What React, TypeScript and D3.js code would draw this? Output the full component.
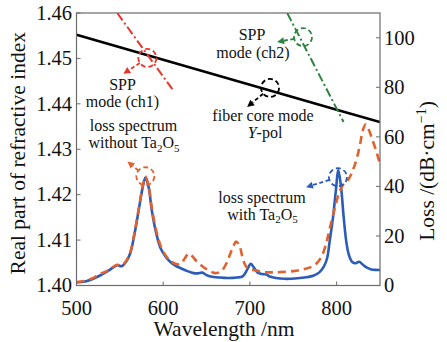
import React from "react";
import * as d3 from "d3";

// ---------- data ----------
const wlWith = [500,510,520,528,535,542,547,552,557,562,567,572,576,579.5,583,587,592,597,603,608,614,620,628,635,640,645,650,655,665,675,685,692,697,701,705,709,714,719,723,730,740,755,765,773,780,785,789,792,796,799,802,805,808,811,814,818,822,826,830,835,840,845,850];
const lossWith = [1.2,1.6,2.8,4.2,5.6,7.2,8.2,7.8,9.5,13,21,31,39,43.6,40,30,21,15,11.5,9.6,8.0,7.0,5.8,5.0,4.9,5.2,4.2,3.6,3.2,3.0,3.2,3.8,6.5,8.8,7.0,5.2,4.6,4.4,3.6,3.0,2.7,2.9,3.3,3.9,5.3,7.5,11,18,28,38,46.5,40,28,18,12.5,9.5,9.0,9.6,8.5,7.2,6.5,6.3,6.3];

const wlWithout = [500,510,520,528,535,542,547,552,557,562,567,572,576,579.5,583,587,592,597,603,608,614,620,625,629,633,638,645,652,660,667,673,677,681,684,688,691,695,700,708,716,725,735,750,760,770,777,783,788,792,797,803,808,813,818,823,827,830.5,833.5,837,841,845,850];
const lossWithout = [1.4,1.9,3.2,4.8,5.8,7.5,8.4,8.0,9.8,13.5,21.5,31.5,39.5,44,40.5,31,22,16,12,10,8.8,8.6,11,12.8,12,10,7.8,6.2,5.0,5.8,9,12.5,16,17.7,16,12,8,6.6,6.0,5.4,5.3,5.4,5.8,6.4,7.4,9,12,17,23,30,37.5,41,42.5,46,51,57,63,65,63,59,55,49];

const wlCore = [500, 600, 700, 800, 850];
const nCore = [1.4552, 1.4497, 1.4442, 1.4387, 1.436];

const wlCh1 = [547, 611];
const nCh1 = [1.46, 1.4431];

const wlCh2 = [743, 808];
const nCh2 = [1.46, 1.436];

const xTicks = [500, 600, 700, 800];
const yLeftTicks = [1.40, 1.41, 1.42, 1.43, 1.44, 1.45, 1.46];
const yRightTicks = [0, 20, 40, 60, 80, 100];

// ---------- layout ----------
const W = 447, H = 342;
const L = 76.5, R = 380, T = 13, B = 285.5;
const FONT = "Liberation Serif";
const TS: React.CSSProperties = { fontFamily: FONT };

const x = d3.scaleLinear().domain([500, 850]).range([L, R]);
const yL = d3.scaleLinear().domain([1.40, 1.46]).range([B, T]);
const yR = d3.scaleLinear().domain([0, 110]).range([B, T]);

const C_BLUE = "#2a5cb8";
const C_ORANGE = "#e0622f";
const C_RED = "#e8362d";
const C_GREEN = "#2e8540";

function Arrow({ from, to, color }: { from: [number, number]; to: [number, number]; color: string }) {
  const [x1, y1] = from;
  const [x2, y2] = to;
  const ang = Math.atan2(y2 - y1, x2 - x1);
  const hl = 7, hw = 3.5;
  const bx = x2 - hl * Math.cos(ang), by = y2 - hl * Math.sin(ang);
  const p1 = [bx + hw * Math.sin(ang), by - hw * Math.cos(ang)];
  const p2 = [bx - hw * Math.sin(ang), by + hw * Math.cos(ang)];
  return (
    <g>
      <line x1={x1} y1={y1} x2={bx} y2={by} stroke={color} strokeWidth={1.8} strokeDasharray="4,2.5" />
      <path d={`M${x2},${y2}L${p1[0]},${p1[1]}L${p2[0]},${p2[1]}Z`} fill={color} />
    </g>
  );
}

function Marker({ cx, cy, tx, ty, color }: { cx: number; cy: number; tx: number; ty: number; color: string }) {
  const r = 9;
  const ang = Math.atan2(ty - cy, tx - cx);
  return (
    <g>
      <circle cx={cx} cy={cy} r={r} fill="none" stroke={color} strokeWidth={1.8} strokeDasharray="5,3" />
      <Arrow from={[cx + r * Math.cos(ang), cy + r * Math.sin(ang)]} to={[tx, ty]} color={color} />
    </g>
  );
}

function T_({ x: tx, y: ty, fs, anchor = "middle", children, dy, transform }: any) {
  return (
    <text x={tx} y={ty} dy={dy} transform={transform} textAnchor={anchor} fontSize={fs} fill="#111" style={TS}>
      {children}
    </text>
  );
}

export default function App() {
  const lossLine = (ws: number[], vs: number[]) =>
    d3.line<number>().x((_, i) => x(ws[i])).y((v) => yR(v)).curve(d3.curveCatmullRom.alpha(0.5))(vs) || "";
  const idxLine = (ws: number[], vs: number[]) =>
    d3.line<number>().x((_, i) => x(ws[i])).y((v) => yL(v))(vs) || "";

  const axisColor = "#6b6b6b";
  const tickFs = 20.5;
  const annFs = 16;
  const titleFs = 21.5;
  const sub = 11;

  const TaO = (
    <>
      Ta<tspan dy="3.5" fontSize={sub}>2</tspan><tspan dy="-3.5">O</tspan><tspan dy="3.5" fontSize={sub}>5</tspan>
    </>
  );

  return (
    <svg width={W} height={H} style={{ position: "absolute", left: 0, top: 0, background: "#fff", fontFamily: FONT }}>
      <defs>
        <clipPath id="plot">
          <rect x={L} y={T} width={R - L} height={B - T} />
        </clipPath>
      </defs>

      {/* curves */}
      <g clipPath="url(#plot)" fill="none">
        <path d={lossLine(wlWith, lossWith)} stroke={C_BLUE} strokeWidth={2.6} />
        <path d={lossLine(wlWithout, lossWithout)} stroke={C_ORANGE} strokeWidth={2.6} strokeDasharray="8,5" />
        <path d={idxLine(wlCore, nCore)} stroke="#000" strokeWidth={2.6} />
        <path d={idxLine(wlCh1, nCh1)} stroke={C_RED} strokeWidth={2} strokeDasharray="9,3,2,3" />
        <path d={idxLine(wlCh2, nCh2)} stroke={C_GREEN} strokeWidth={2} strokeDasharray="9,3,2,3" />
      </g>

      {/* frame */}
      <rect x={L} y={T} width={R - L} height={B - T} fill="none" stroke={axisColor} strokeWidth={1.2} />

      {/* x ticks */}
      {xTicks.map((t) => (
        <g key={"x" + t}>
          <line x1={x(t)} x2={x(t)} y1={B} y2={B - 4} stroke={axisColor} strokeWidth={1} />
          <T_ x={x(t)} y={315} fs={tickFs}>{t}</T_>
        </g>
      ))}
      {/* left ticks */}
      {yLeftTicks.map((t) => (
        <g key={"l" + t}>
          <line x1={L} x2={L + 4} y1={yL(t)} y2={yL(t)} stroke={axisColor} strokeWidth={1} />
          <T_ x={72} y={yL(t)} dy="0.33em" anchor="end" fs={tickFs}>{t.toFixed(2)}</T_>
        </g>
      ))}
      {/* right ticks */}
      {yRightTicks.map((t) => (
        <g key={"r" + t}>
          <line x1={R} x2={R - 4} y1={yR(t)} y2={yR(t)} stroke={axisColor} strokeWidth={1} />
          <T_ x={384} y={yR(t)} dy="0.33em" anchor="start" fs={tickFs}>{t}</T_>
        </g>
      ))}

      {/* axis titles */}
      <T_ x={224} y={336} fs={titleFs}>Wavelength /nm</T_>
      <T_ transform={`translate(25,${(T + B) / 2 + 4}) rotate(-90)`} fs={titleFs}>Real part of refractive index</T_>
      <T_ transform={`translate(434,171) rotate(-90)`} fs={titleFs}>
        Loss /(dB·cm<tspan dy="-8" fontSize={14}>−1</tspan><tspan dy="8">)</tspan>
      </T_>

      {/* annotations */}
      <Marker cx={x(581.7)} cy={yL(1.4501)} tx={x(554)} ty={yL(1.4466)} color={C_RED} />
      <Marker cx={x(761.2)} cy={yL(1.4547)} tx={x(731.3)} ty={yL(1.4536)} color={C_GREEN} />
      <Marker cx={x(723.2)} cy={yL(1.4435)} tx={x(696.8)} ty={yL(1.4393)} color="#000" />
      <Marker cx={x(579.4)} cy={yR(44.1)} tx={x(558.7)} ty={yR(50.1)} color={C_ORANGE} />
      <Marker cx={x(801.5)} cy={yR(43.7)} tx={x(764.7)} ty={yR(39.7)} color={C_BLUE} />

      <T_ x={122.5} y={89.5} fs={annFs}>SPP</T_>
      <T_ x={122.5} y={106.5} fs={annFs}>mode (ch1)</T_>
      <T_ x={252} y={40} fs={annFs}>SPP</T_>
      <T_ x={253} y={58} fs={annFs}>mode (ch2)</T_>
      <T_ x={263} y={120.5} fs={annFs}>fiber core mode</T_>
      <T_ x={265} y={137.5} fs={annFs}><tspan fontStyle="italic">Y</tspan>-pol</T_>
      <T_ x={133.5} y={131} fs={annFs}>loss spectrum</T_>
      <T_ x={134} y={148} fs={annFs}>without {TaO}</T_>
      <T_ x={262} y={202.5} fs={annFs}>loss spectrum</T_>
      <T_ x={262.5} y={219.5} fs={annFs}>with {TaO}</T_>
    </svg>
  );
}
